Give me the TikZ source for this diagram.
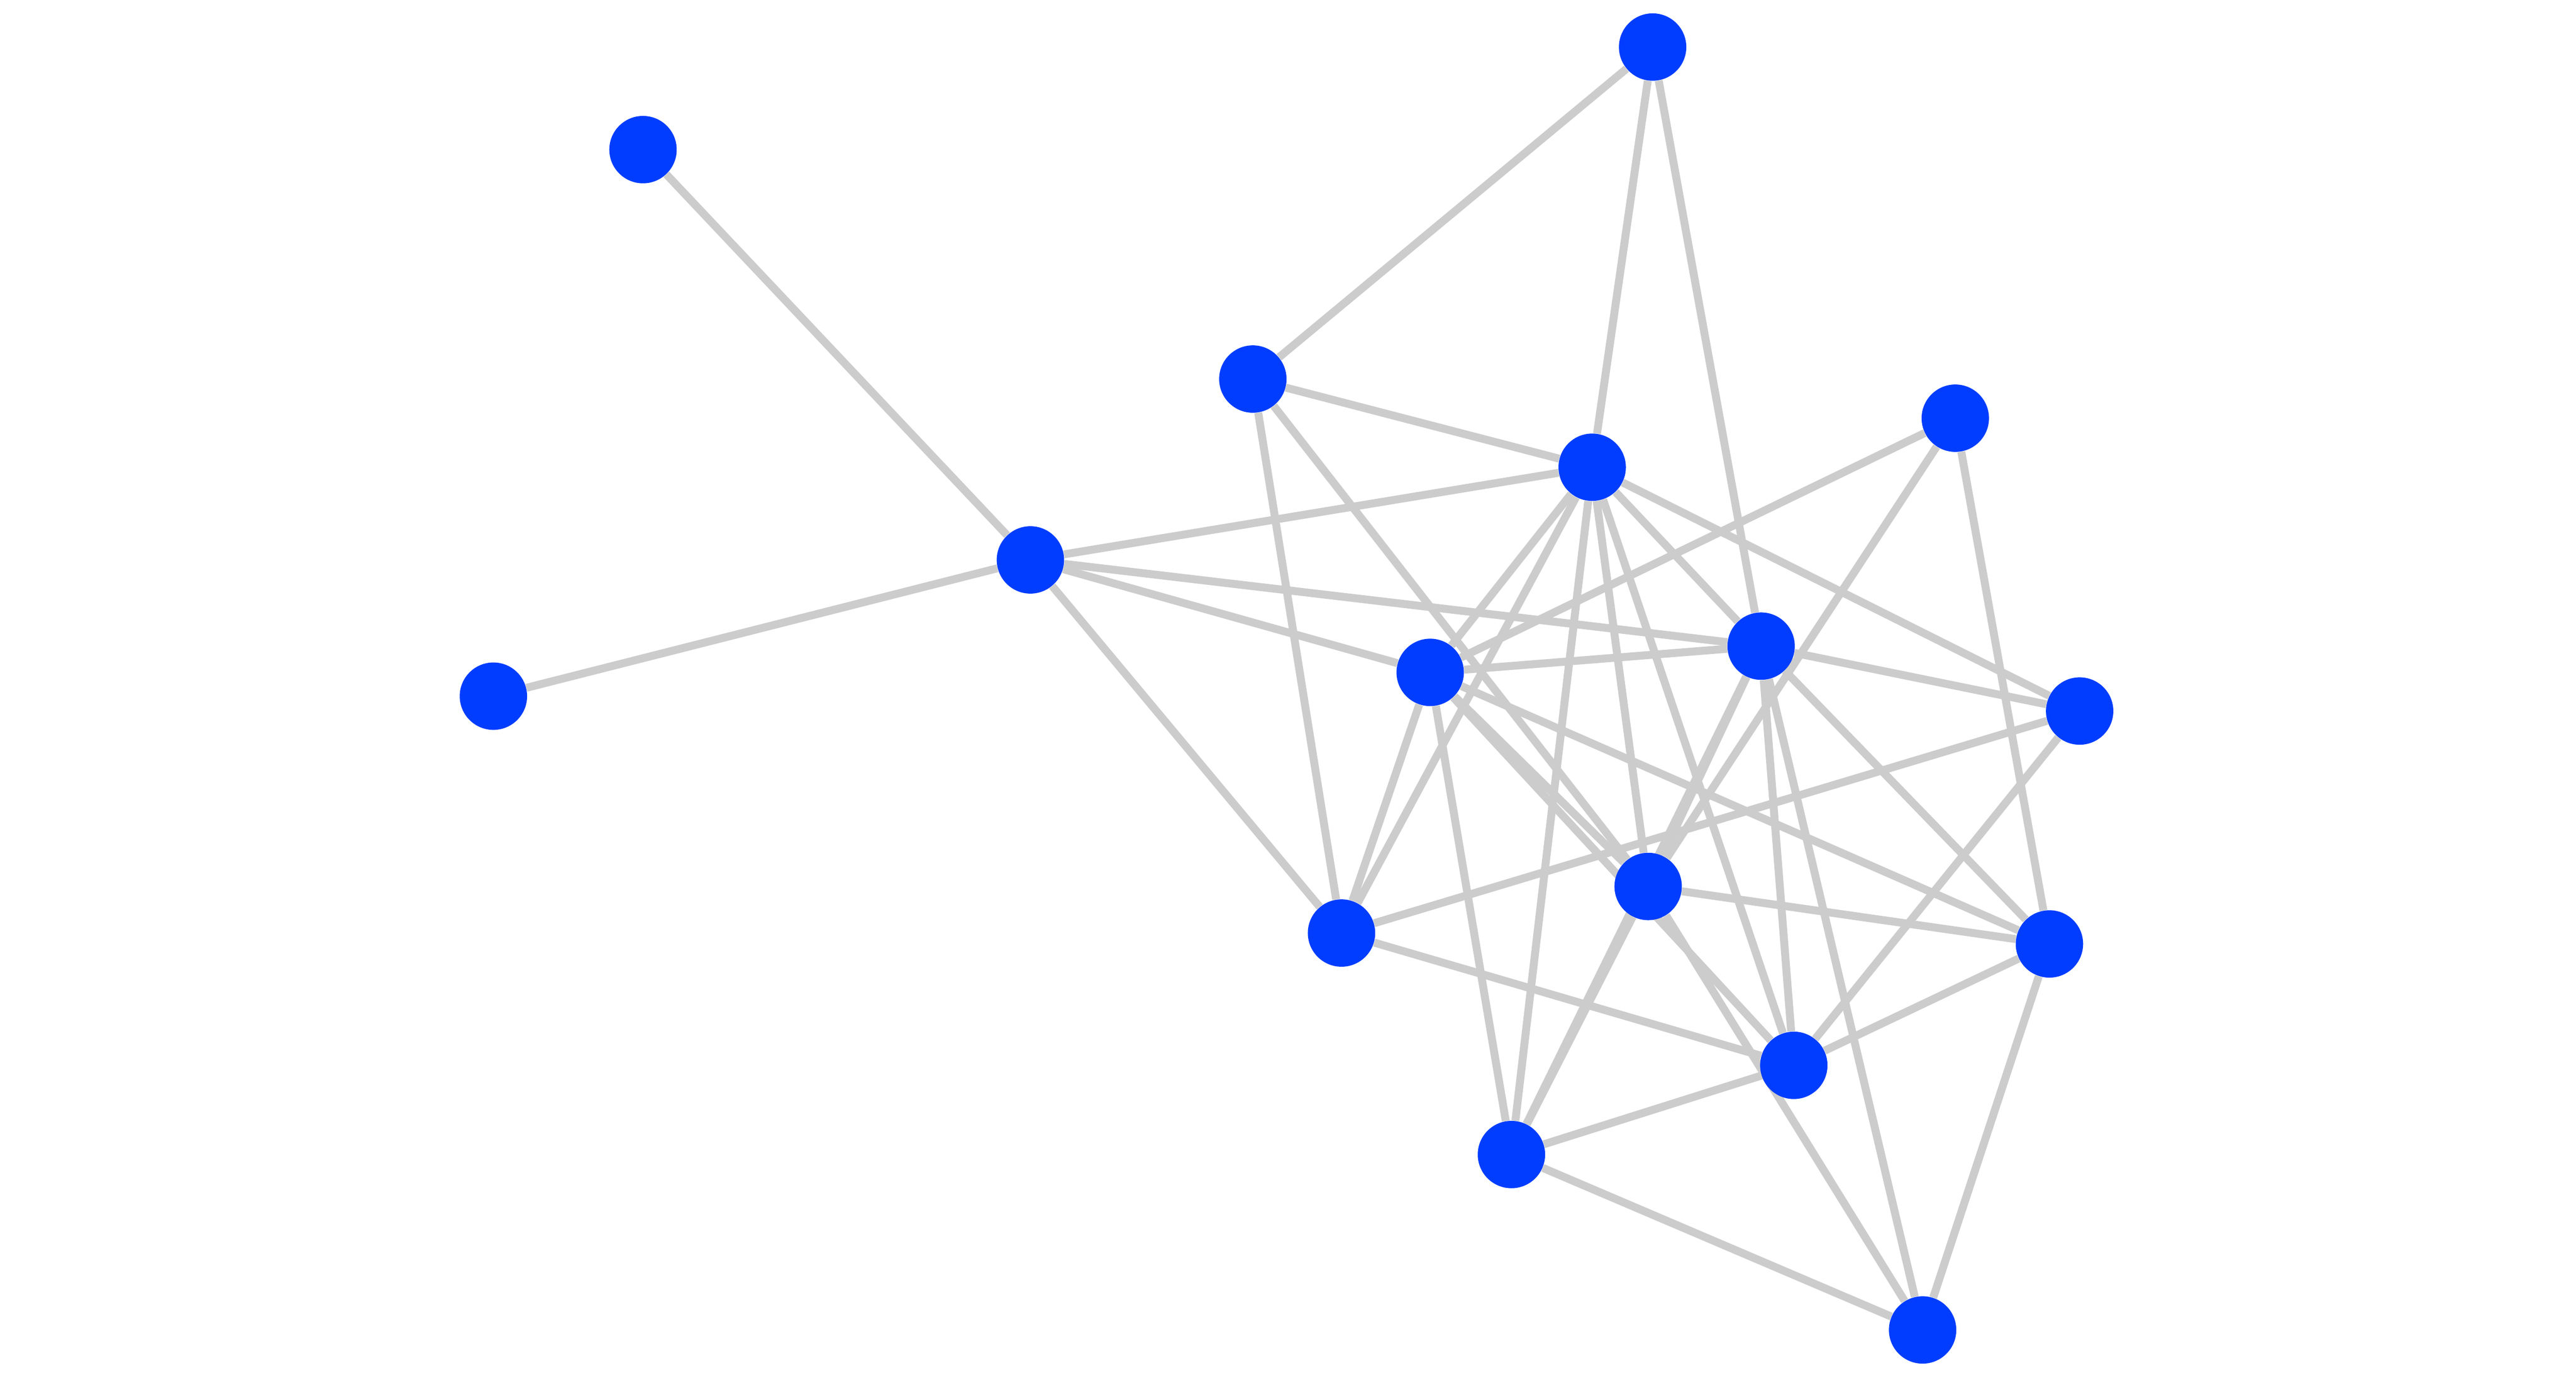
\documentclass[tikz,border=0pt]{standalone}
\usepackage{tikz}
\usetikzlibrary{backgrounds}
\definecolor{nodeblue}{RGB}{0,61,255}
\definecolor{edgegray}{RGB}{204,204,204}

\begin{document}
\begin{tikzpicture} [vertex/.style={circle,fill=nodeblue,inner sep=0pt,minimum size=1.36cm},
          edge/.style={edgegray,line width=0.16cm}]
          \useasboundingbox (0,0) rectangle (52,27.8);
          \node [vertex] (a) at (33.36,26.85) {};
          \node [vertex] (b) at (12.98,24.78) {};
          \node [vertex] (c) at (25.29,20.15) {};
          \node [vertex] (d) at (39.47,19.36) {};
          \node [vertex] (e) at (32.14,18.37) {};
          \node [vertex] (f) at (20.80,16.50) {};
          \node [vertex] (g) at (9.96,13.75) {};
          \node [vertex] (h) at (28.87,14.23) {};
          \node [vertex] (i) at (35.55,14.76) {};
          \node [vertex] (j) at (41.98,13.45) {};
          \node [vertex] (k) at (33.27,9.91) {};
          \node [vertex] (l) at (27.08,8.97) {};
          \node [vertex] (m) at (41.37,8.75) {};
          \node [vertex] (n) at (36.21,6.30) {};
          \node [vertex] (o) at (30.51,4.50) {};
          \node [vertex] (p) at (38.81,0.96) {};
          \begin{pgfonlayer}{background}
          \draw [edge] (b)--(f);
          \draw [edge] (g)--(f);
          \draw [edge] (f)--(e);
          \draw [edge] (f)--(i);
          \draw [edge] (f)--(h);
          \draw [edge] (f)--(l);
          \draw [edge] (a)--(c);
          \draw [edge] (a)--(e);
          \draw [edge] (a)--(i);
          \draw [edge] (c)--(e);
          \draw [edge] (c)--(l);
          \draw [edge] (c)--(k);
          \draw [edge] (e)--(h);
          \draw [edge] (e)--(l);
          \draw [edge] (e)--(o);
          \draw [edge] (e)--(k);
          \draw [edge] (e)--(n);
          \draw [edge] (e)--(i);
          \draw [edge] (e)--(j);
          \draw [edge] (d)--(h);
          \draw [edge] (d)--(k);
          \draw [edge] (d)--(m);
          \draw [edge] (h)--(i);
          \draw [edge] (h)--(m);
          \draw [edge] (h)--(k);
          \draw [edge] (h)--(n);
          \draw [edge] (h)--(l);
          \draw [edge] (h)--(o);
          \draw [edge] (i)--(j);
          \draw [edge] (i)--(m);
          \draw [edge] (i)--(n);
          \draw [edge] (i)--(p);
          \draw [edge] (i)--(o);
          \draw [edge] (i)--(k);
          \draw [edge] (k)--(o);
          \draw [edge] (k)--(m);
          \draw [edge] (k)--(p);
          \draw [edge] (l)--(j);
          \draw [edge] (l)--(n);
          \draw [edge] (j)--(n);
          \draw [edge] (m)--(n);
          \draw [edge] (m)--(p);
          \draw [edge] (o)--(n);
          \draw [edge] (o)--(p);
          \end{pgfonlayer}
        \end{tikzpicture}
\end{document}
